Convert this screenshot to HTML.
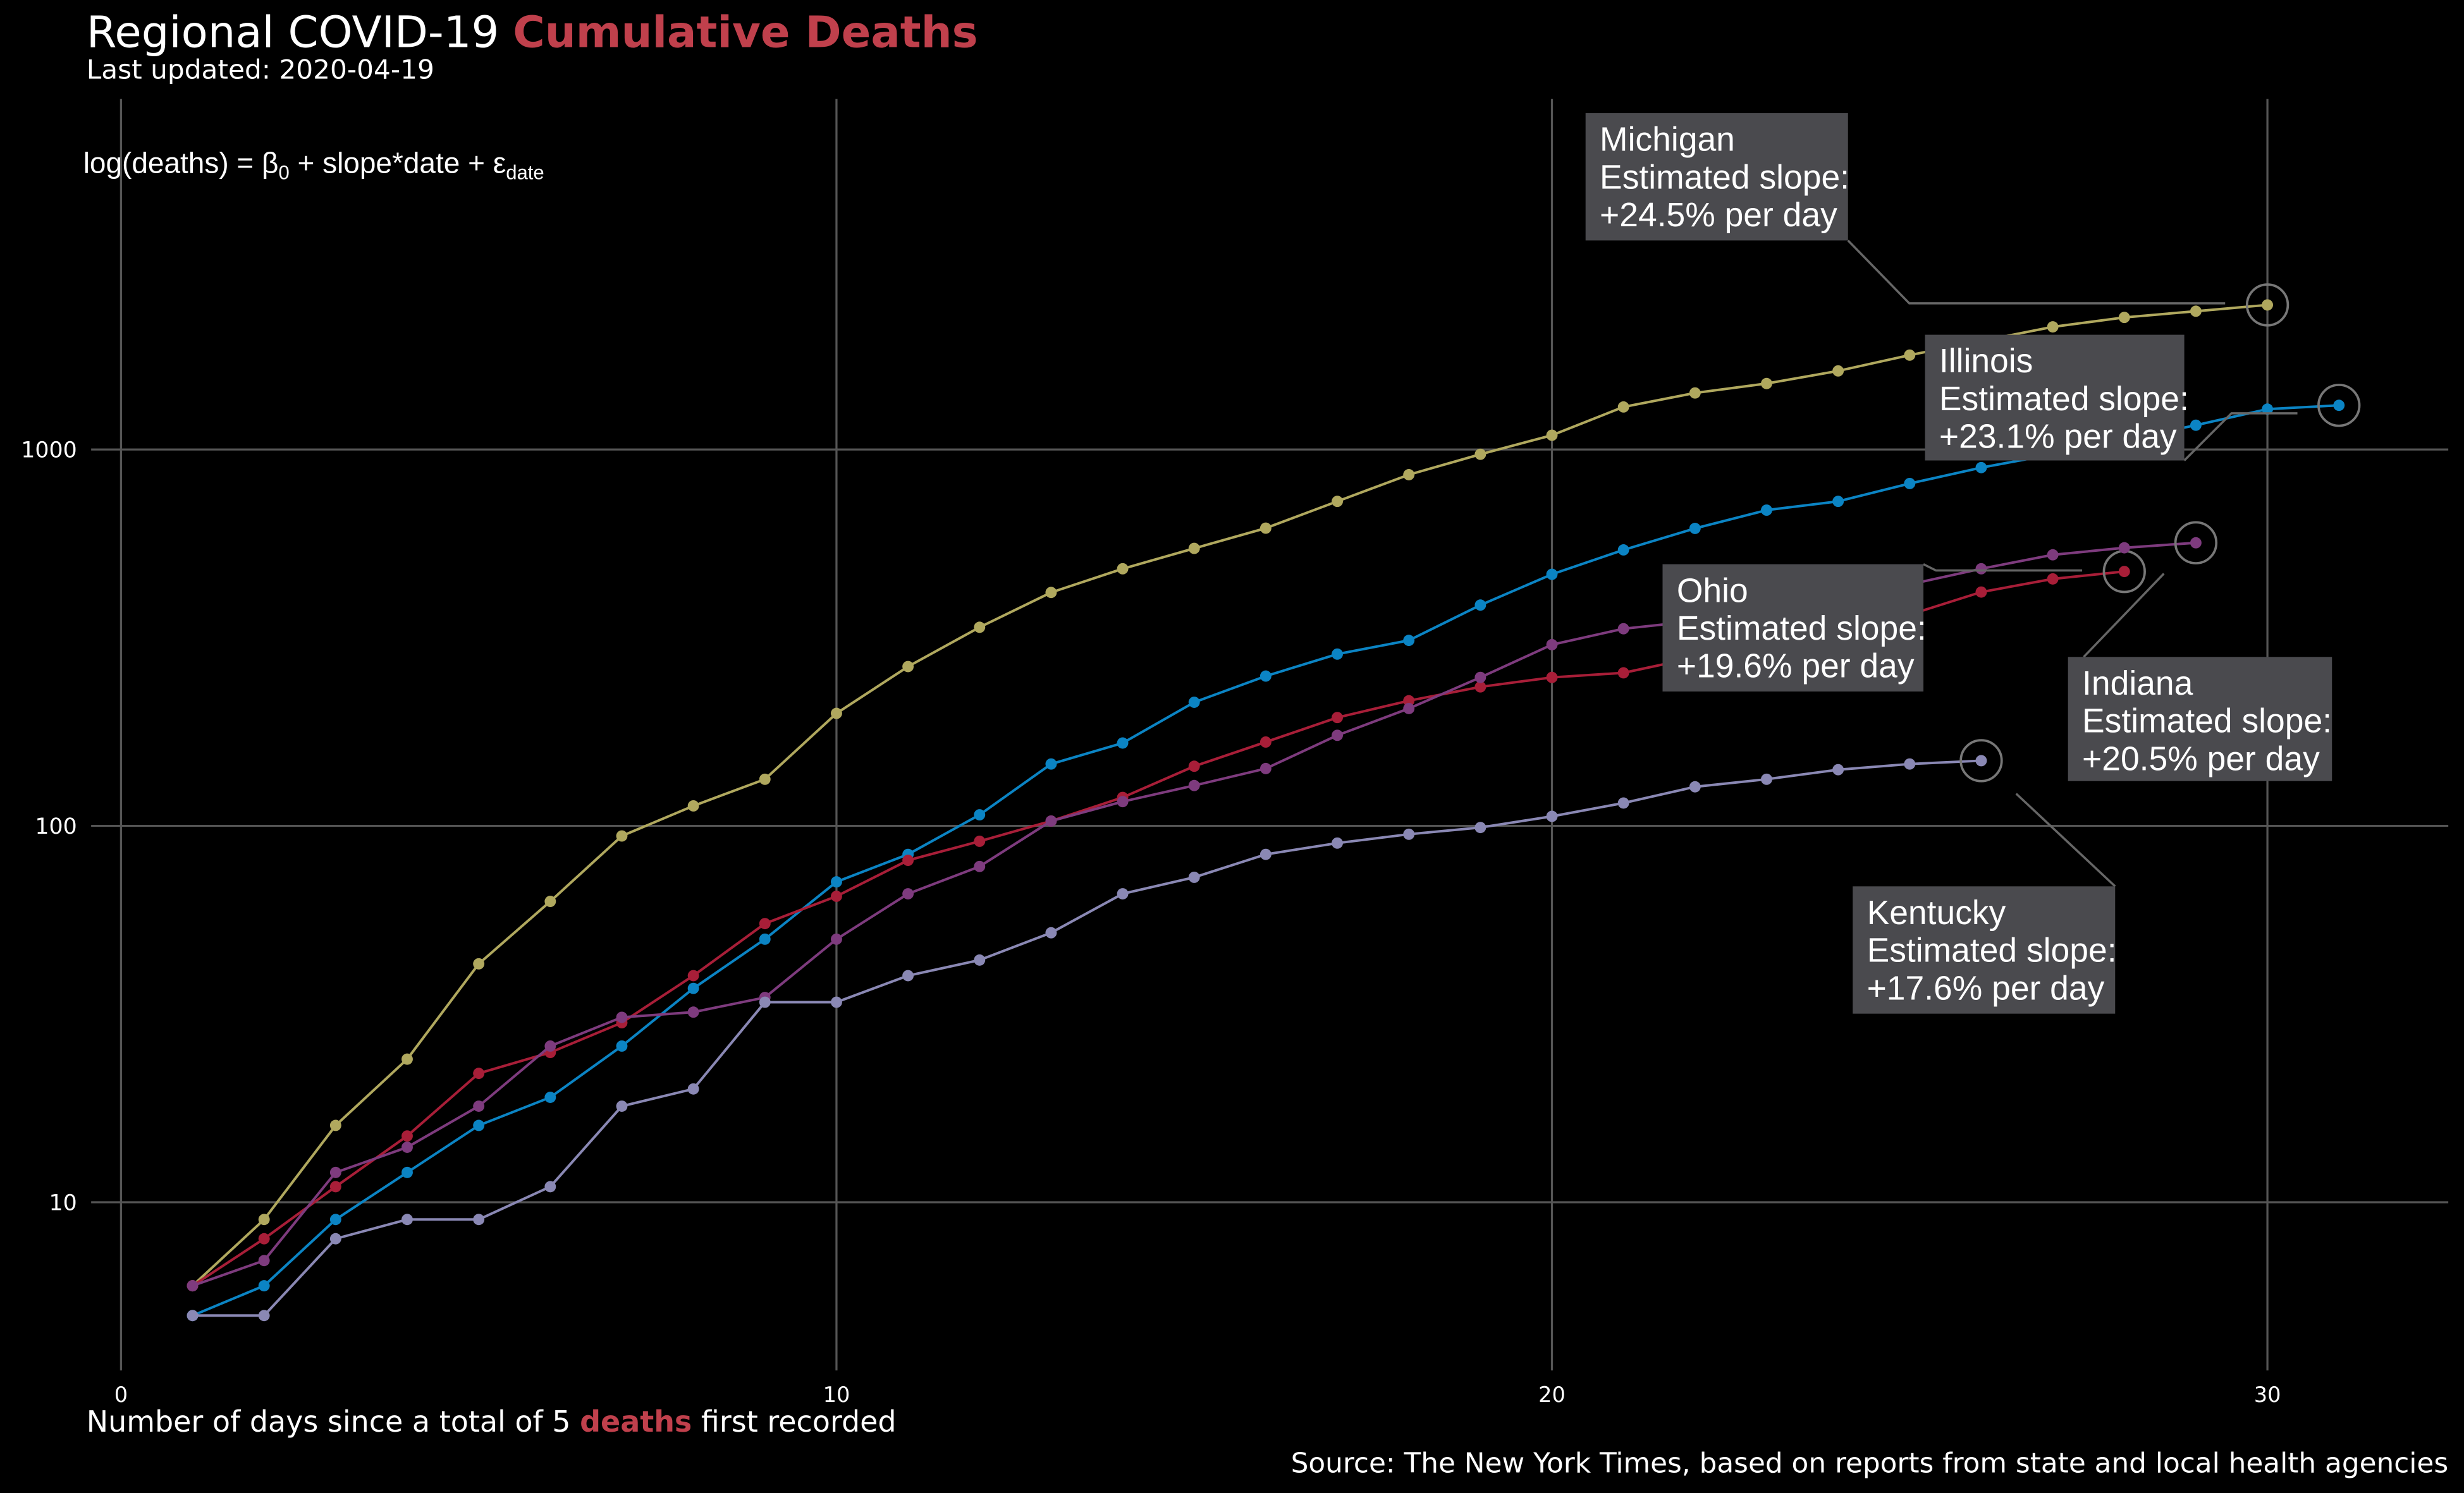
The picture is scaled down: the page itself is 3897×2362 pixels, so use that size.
<!DOCTYPE html>
<html><head><meta charset="utf-8"><style>
html,body{margin:0;padding:0;background:#000;}
svg{display:block;}
text{font-family:"DejaVu Sans","Liberation Sans",sans-serif;fill:#fff;}
text.lib{font-family:"Liberation Sans",sans-serif;}
</style></head><body>
<svg id="chart" width="3897" height="2362" viewBox="0 0 1568 950" preserveAspectRatio="none" xmlns="http://www.w3.org/2000/svg">
<rect x="0" y="0" width="1568" height="950" fill="#000"/>
<g id="grid"></g>
<g id="series"></g>
<g id="annots"></g>
<text x="55" y="30" font-size="27.7">Regional COVID-19 <tspan fill="#c0404c" font-weight="bold">Cumulative Deaths</tspan></text>
<text x="55" y="50" font-size="17">Last updated: 2020-04-19</text>
<text class="lib" x="53" y="110" font-size="18.5">log(deaths) = β<tspan font-size="12.5" dy="4">0</tspan><tspan dy="-4"> + slope*date + ε</tspan><tspan font-size="12.5" dy="4">date</tspan></text>
<text x="55" y="911" font-size="18.5">Number of days since a total of 5 <tspan fill="#c0404c" font-weight="bold">deaths</tspan> first recorded</text>
<text x="1558" y="937" font-size="17.6" text-anchor="end">Source: The New York Times, based on reports from state and local health agencies</text>
</svg>
<script>
const xTicks=[0,10,20,30];
const yTicks=[10,100,1000];
const yTickLabels=["10","100","1000"];
const michigan=[6,9,16,24,43,63,94,113,133,199,265,337,417,482,546,618,728,857,971,1091,1297,1413,1497,1617,1781,1942,2117,2243,2330,2421];
const illinois=[5,6,9,12,16,19,26,37,50,71,84,107,146,166,213,250,286,311,386,466,541,617,690,728,812,895,970,1060,1160,1280,1310];
const ohio=[6,8,11,15,22,25,30,40,55,65,81,91,103,119,144,167,194,215,234,248,255,280,303,331,364,418,453,474];
const indiana=[6,7,12,14,18,26,31,32,35,50,66,78,103,116,128,142,174,205,248,303,334,350,375,414,438,482,525,548,565];
const kentucky=[5,5,8,9,9,11,18,20,34,34,40,44,52,66,73,84,90,95,99,106,115,127,133,141,146,149];
const stateNames=["Michigan","Illinois","Ohio","Indiana","Kentucky"];
const slopes=["+24.5%","+23.1%","+19.6%","+20.5%","+17.6%"];

const NS="http://www.w3.org/2000/svg";
const X=d=>77+d*45.53;
const Y=v=>765-(Math.log10(v)-1)*239.5;
function mk(tag,attrs,parent){const e=document.createElementNS(NS,tag);for(const k in attrs)e.setAttribute(k,attrs[k]);parent.appendChild(e);return e;}
const grid=document.getElementById('grid');
xTicks.forEach(t=>{
 const l=mk('line',{x1:X(t),x2:X(t),y1:63,y2:872,stroke:'#555','stroke-width':1.3},grid);
 
 
 const tx=mk('text',{x:X(t),y:892,'font-size':13.5,'text-anchor':'middle'},grid);tx.textContent=t;
 
 
});
yTicks.forEach((t,i)=>{
 const l=mk('line',{x1:58,x2:1558,y1:Y(t),y2:Y(t),stroke:'#555','stroke-width':1.3},grid);
 
 
 const tx=mk('text',{x:49,y:Y(t)+5,'font-size':14,'text-anchor':'end'},grid);tx.textContent=yTickLabels[i];
 
 
});
const allSeries=[michigan,illinois,ohio,indiana,kentucky];
const colors=["#b0a85e","#0b84c4","#a81e38","#7e3b7e","#8a88b4"];
const sg=document.getElementById('series');
allSeries.forEach((s,k)=>{
 const g=mk('g',{},sg);
 
 
 const pts=s.map((v,i)=>X(i+1)+','+Y(v)).join(' ');
 const pl=mk('polyline',{points:pts,fill:'none',stroke:colors[k],'stroke-width':1.6},g);
 
 
 s.forEach((v,i)=>{
  const c=mk('circle',{cx:X(i+1),cy:Y(v),r:3.6,fill:colors[k]},g);
  
  
 });
 const n=s.length;
 const hc=mk('circle',{cx:X(n),cy:Y(s[n-1]),r:13,fill:'none',stroke:'#777','stroke-width':1.5},g);
 
 
});
const boxes=[[1009,72,1176,153,[[1176,153],[1215,193],[1416,193]]],
 [1225,213,1390,293,[[1390,293],[1420,263],[1462,263]]],
 [1058,359,1224,440,[[1224,359],[1232,363],[1325,363]]],
 [1316,418,1484,497,[[1326,418],[1377,365]]],
 [1179,564,1346,645,[[1346,564],[1283,505]]]];
const ag=document.getElementById('annots');
boxes.forEach((b,k)=>{
 const g=mk('g',{},ag);
 
 
 const ln=mk('polyline',{points:b[4].map(p=>p.join(',')).join(' '),fill:'none',stroke:'#666','stroke-width':1.4},g);
 
 
 const r=mk('rect',{x:b[0],y:b[1],width:b[2]-b[0],height:b[3]-b[1],fill:'#4a4a4e'},g);
 
 
 const lines=[stateNames[k],'Estimated slope:',slopes[k]+' per day'];
 lines.forEach((t,i)=>{
  const tx=mk('text',{x:b[0]+9,y:b[1]+24+i*24,'font-size':21.5,'class':'lib'},g);
  tx.textContent=t;
  
  
 });
});
</script>
</body></html>
